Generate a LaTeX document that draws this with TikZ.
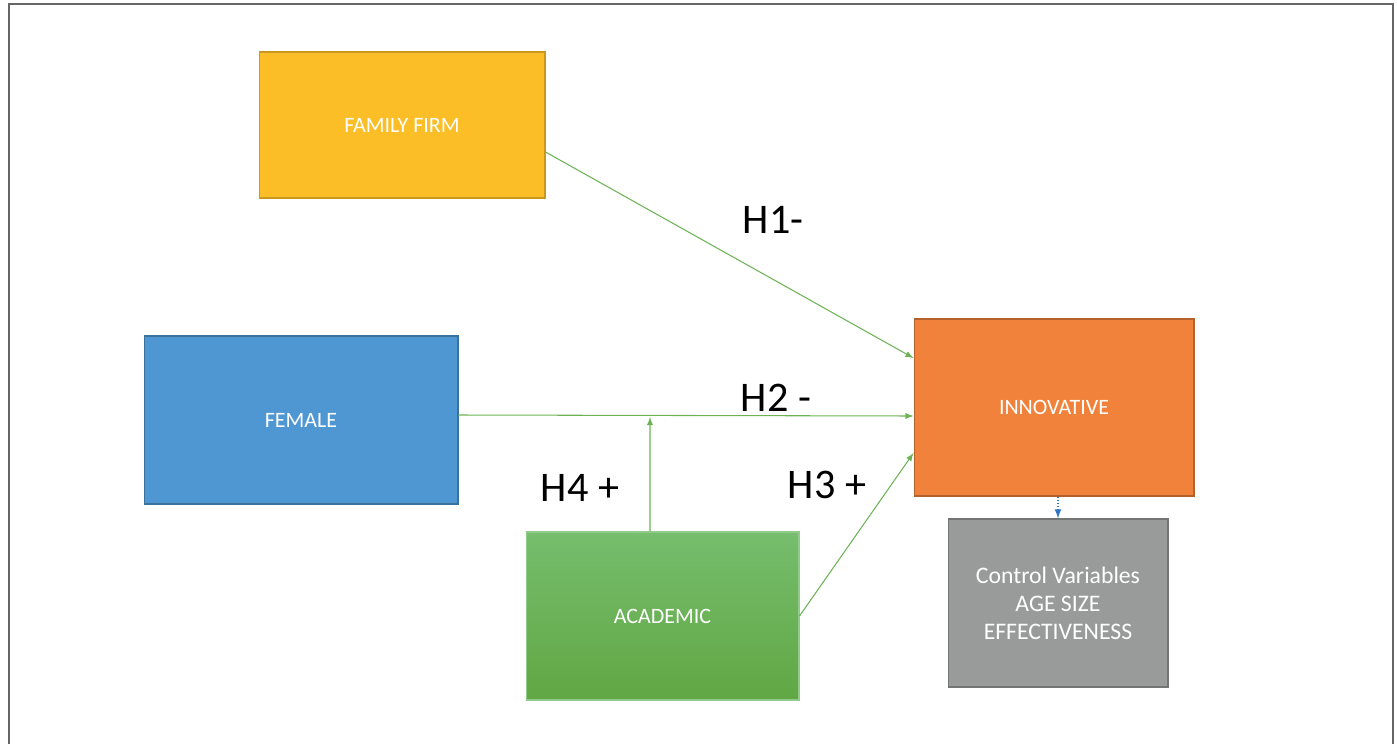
\documentclass[tikz,border=0pt]{standalone}
\usepackage{fontspec}
\setmainfont{Carlito}
\usepackage{xcolor}
\usepackage{tikz}

\definecolor{ffgold}{HTML}{FBBE26}
\definecolor{femblue}{HTML}{4F97D2}
\definecolor{innorange}{HTML}{F0823B}
\definecolor{acgreentop}{HTML}{76BD6D}
\definecolor{acgreenbot}{HTML}{61A744}
\definecolor{ctrlgray}{HTML}{999B9B}
\definecolor{arrgreen}{HTML}{6DB356}
\definecolor{dotblue}{HTML}{2E75C4}

\begin{document}
\begin{tikzpicture}[x=0.02cm,y=-0.02cm,
  box/.style={draw,line width=0.6pt,text=white,font=\fontsize{12.5}{16}\selectfont,align=center},
  hyp/.style={->,>=latex,draw=arrgreen,line width=0.6pt},
  hlabel/.style={font=\fontsize{24}{28}\selectfont}]

\useasboundingbox (0,0) rectangle (1397,744);
\draw[gray!80!black,line width=1.2pt] (9,744) -- (9,4) -- (1393,4) -- (1393,744);

\node[box][fill=ffgold,draw=ffgold!80!black,minimum width=5.72cm,minimum height=2.92cm] (fam) at (402,125) {FAMILY FIRM};
\node[box][fill=femblue,draw=femblue!75!black,minimum width=6.28cm,minimum height=3.36cm] (fem) at (301,420) {FEMALE};
\node[box][fill=innorange,draw=innorange!75!black,minimum width=5.6cm,minimum height=3.54cm] (inn) at (1054,407.5) {INNOVATIVE};
\node[box][top color=acgreentop,bottom color=acgreenbot,draw=acgreentop!80!white,minimum width=5.46cm,minimum height=3.36cm] (acad) at (662.5,616) {ACADEMIC};
\node[box][fill=ctrlgray,draw=ctrlgray!75!black,minimum width=4.4cm,minimum height=3.36cm,font=\fontsize{13.5}{16}\selectfont] (ctrl) at (1058,603) {Control Variables\\AGE SIZE\\EFFECTIVENESS};

%%%
\draw[hyp] ([yshift=-0.54cm]fam.east) -- ([yshift=0.99cm]inn.west);
\path (773,220) node[hlabel] (h1) {H1-};

\draw[hyp] ([yshift=0.1cm]fem.east) -- ([yshift=-0.17cm]inn.west);
\path (776,398) node[hlabel] (h2) {H2 -};

\draw[hyp] (acad.east) -- ([yshift=-0.91cm]inn.west);
\path (827,485) node[hlabel] (h3) {H3 +};

\coordinate (mod) at (650,417);
\draw[hyp] ([xshift=-0.25cm]acad.north) -- (mod);
\path (580,488) node[hlabel] (h4) {H4 +};
%%%
\draw[->,>=latex,dotblue,densely dotted,line width=0.8pt] (inn.south -| ctrl.north) -- (ctrl.north);
\end{tikzpicture}
\end{document}
